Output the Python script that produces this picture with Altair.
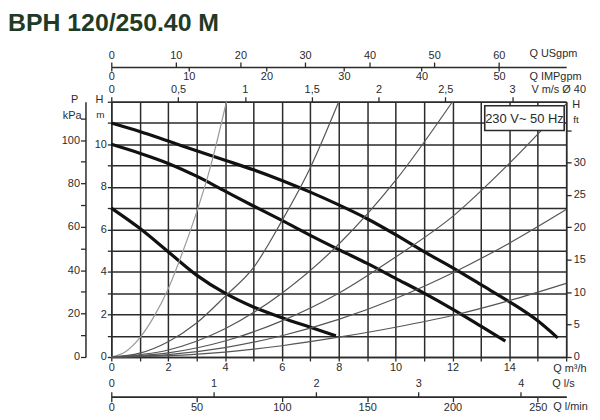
import altair as alt
import pandas as pd

# ---------------- data ----------------
# pump curves, Q in m3/h, H in m
q_max = [0, 1, 2, 3, 4, 5, 6, 7, 8, 9, 10, 11, 12, 13, 14, 15, 15.7]
h_max = [11.0, 10.6, 10.15, 9.7, 9.25, 8.8, 8.3, 7.75, 7.15, 6.5, 5.75, 4.95, 4.2, 3.4, 2.6, 1.7, 0.9]
q_mid = [0, 1, 2, 3, 4, 5, 6, 7, 8, 9, 10, 11, 12, 13, 13.86]
h_mid = [10.0, 9.58, 9.1, 8.5, 7.8, 7.1, 6.42, 5.72, 5.05, 4.4, 3.7, 3.0, 2.25, 1.45, 0.75]
q_min = [0, 1, 2, 3, 4, 5, 6, 7, 7.9]
h_min = [7.0, 6.05, 4.95, 3.85, 3.0, 2.35, 1.85, 1.4, 1.0]

# system (pipe) curves, thin lines
sysA_q = [0, 0.5, 1, 1.5, 2, 2.5, 3, 3.5, 4.05]
sysA_h = [0, 0.25, 0.9, 1.9, 3.2, 4.9, 6.8, 9.0, 12.0]
sysB_q = [0, 1, 2, 3, 4, 5, 6, 7, 8]
sysB_h = [0, 0.18, 0.72, 1.6, 2.85, 4.2, 6.4, 8.9, 12.0]
sysC_q = [0, 2, 4, 6, 8, 10, 12]
sysC_h = [0, 0.33, 1.33, 3.0, 5.3, 8.3, 12.0]
sysD_q = [0, 2, 4, 6, 8, 10, 12, 14, 16]
sysD_h = [0, 0.19, 0.75, 1.7, 3.0, 4.7, 6.6, 9.1, 11.9]
sysE_q = [0, 2, 4, 6, 8, 10, 12, 14, 16]
sysE_h = [0, 0.11, 0.44, 1.0, 1.77, 2.75, 3.95, 5.35, 6.93]
sysF_q = [0, 2, 4, 6, 8, 10, 12, 14, 16]
sysF_h = [0, 0.06, 0.23, 0.53, 0.93, 1.4, 1.95, 2.65, 3.46]

# axis tick values
q_ticks = list(range(0, 17))
h_ticks = list(range(0, 13))
kpa_ticks = list(range(0, 120, 10))
ft_ticks = [0, 5, 10, 15, 20, 25, 30, 35]
v_ticks = [0, 0.5, 1, 1.5, 2, 2.5, 3]
usgpm_ticks = [0, 10, 20, 30, 40, 50, 60]
impgpm_ticks = [0, 10, 20, 30, 40, 50]
ls_ticks = [0, 1, 2, 3, 4]
lmin_ticks = [0, 50, 100, 150, 200, 250]

TITLE = "BPH 120/250.40 M"
BOX_TEXT = "230 V~ 50 Hz"

# unit conversions (scale domains of the secondary axes)
Q_MAX, H_MAX = 16, 12
KPA_PER_M = 9.80665
FT_PER_M = 1 / 0.3048
V_PER_Q = 0.2128
USGPM_PER_Q = 4.4029
IMPGPM_PER_Q = 3.6662
LS_PER_Q = 1 / 3.6
LMIN_PER_Q = 1000 / 60

# ---------------- styling ----------------
W, H = 458, 257
FONT = "Liberation Sans"
INK = "#2b2b2b"

pump_df = pd.DataFrame(
    [("max", q, h) for q, h in zip(q_max, h_max)]
    + [("mid", q, h) for q, h in zip(q_mid, h_mid)]
    + [("min", q, h) for q, h in zip(q_min, h_min)],
    columns=["series", "Q", "H"],
)
sys_sets = {"A": (sysA_q, sysA_h), "B": (sysB_q, sysB_h), "C": (sysC_q, sysC_h),
            "D": (sysD_q, sysD_h), "E": (sysE_q, sysE_h), "F": (sysF_q, sysF_h)}
sys_df = pd.DataFrame(
    [(k, q, h) for k, (qs, hs) in sys_sets.items() for q, h in zip(qs, hs)],
    columns=["series", "Q", "H"],
)


def ax(**kw):
    base = dict(title=None, labelFont=FONT, labelFontSize=11, labelColor=INK,
                domainColor=INK, domainWidth=1.5, tickColor=INK, tickWidth=1.3,
                labelOverlap=False, labelFlush=False, grid=False)
    base.update(kw)
    return alt.Axis(**base)


def sc(hi):
    return alt.Scale(domain=[0, hi], nice=False, zero=False)


pump = alt.Chart(pump_df).mark_line(color="#111111", strokeWidth=3.2, interpolate="monotone").encode(
    x=alt.X("Q:Q", scale=sc(Q_MAX), axis=ax(
        orient="bottom", values=q_ticks, grid=True, gridColor=INK, gridWidth=1.5,
        tickSize=4, labelPadding=1,
        labelExpr="datum.value % 2 == 0 && datum.value < 16 ? toString(datum.value) : ''")),
    y=alt.Y("H:Q", scale=sc(H_MAX), axis=ax(
        orient="left", values=h_ticks, grid=True, gridColor=INK, gridWidth=1.5,
        tickSize=4, labelPadding=1,
        labelExpr="datum.value % 2 == 0 && datum.value < 12 ? toString(datum.value) : ''")),
    detail="series:N",
)

system = alt.Chart(sys_df).mark_line(strokeWidth=1.2, interpolate="monotone").encode(
    x=alt.X("Q:Q", scale=sc(Q_MAX), axis=None),
    y=alt.Y("H:Q", scale=sc(H_MAX), axis=None),
    color=alt.Color("series:N", legend=None,
                    scale=alt.Scale(domain=list(sys_sets.keys()),
                                    range=["#9a9a9a", "#555555", "#555555", "#555555", "#555555", "#555555"])),
    detail="series:N",
)


def axis_layer(channel, field, values, hi, axis):
    df = pd.DataFrame({field: values})
    if channel == "x":
        enc = {"x": alt.X(f"{field}:Q", scale=sc(hi), axis=axis)}
    else:
        enc = {"y": alt.Y(f"{field}:Q", scale=sc(hi), axis=axis)}
    return alt.Chart(df).mark_point(opacity=0).encode(**enc)


kpa_layer = axis_layer("y", "kpa", kpa_ticks, H_MAX * KPA_PER_M, ax(
    orient="left", offset=26, values=kpa_ticks, tickSize=5, labelPadding=1,
    labelExpr="datum.value % 20 == 0 && datum.value <= 100 ? toString(datum.value) : ''"))
ft_layer = axis_layer("y", "ft", ft_ticks, H_MAX * FT_PER_M, ax(
    orient="right", values=ft_ticks, tickSize=5, labelPadding=2,
    labelExpr="datum.value < 35 ? toString(datum.value) : ''"))
v_layer = axis_layer("x", "v", v_ticks, Q_MAX * V_PER_Q, ax(
    orient="top", values=v_ticks, tickSize=5, labelPadding=2,
    labelExpr="replace(toString(datum.value), '.', ',')"))
us_layer = axis_layer("x", "usgpm", usgpm_ticks, Q_MAX * USGPM_PER_Q, ax(
    orient="top", offset=35, values=usgpm_ticks, tickSize=5, labelPadding=2,
    labelExpr="toString(datum.value)"))
imp_layer = axis_layer("x", "impgpm", impgpm_ticks, Q_MAX * IMPGPM_PER_Q, ax(
    orient="bottom", offset=-292, values=impgpm_ticks, tickSize=4, labelPadding=0,
    domain=False, labelExpr="toString(datum.value)"))
ls_layer = axis_layer("x", "ls", ls_ticks, Q_MAX * LS_PER_Q, ax(
    orient="top", offset=-297, values=ls_ticks, tickSize=5, labelPadding=3,
    labelExpr="toString(datum.value)"))
lmin_layer = axis_layer("x", "lmin", lmin_ticks, Q_MAX * LMIN_PER_Q, ax(
    orient="bottom", offset=40, values=lmin_ticks, tickSize=5, labelPadding=0,
    labelExpr="toString(datum.value)"))


def note(text, x, y, align="left", size=11, weight="normal", color=INK, font=FONT, baseline="middle"):
    return alt.Chart(alt.Data(values=[{}])).mark_text(
        text=text, align=align, baseline=baseline, fontSize=size,
        fontWeight=weight, color=color, font=font,
    ).encode(x=alt.value(x), y=alt.value(y))


box = alt.Chart(alt.Data(values=[{}])).mark_rect(
    fill="white", stroke=INK, strokeWidth=1.6
).encode(x=alt.value(376), x2=alt.value(456), y=alt.value(4), y2=alt.value(29))

notes = [
    note(TITLE, -104, -71, size=25, weight="bold", color="#1f3b26", baseline="alphabetic"),
    note("Q USgpm", 421, -48),
    note("Q IMPgpm", 421, -25),
    note("V m/s Ø 40", 423, -12),
    note("Q m³/h", 445, 269),
    note("Q l/s", 444, 284),
    note("Q l/min", 445, 307),
    note("P", -37, -2, align="center"),
    note("kPa", -30, 14, align="right"),
    note("H", -12, -2, align="center"),
    note("m", -11, 13, align="center", size=10),
    note("H", 468, 3, align="center"),
    note("ft", 468, 18, align="center", size=10),
    note(BOX_TEXT, 416, 17, align="center", size=13),
]

chart = alt.layer(
    pump, system, kpa_layer, ft_layer, v_layer, us_layer, imp_layer, ls_layer, lmin_layer,
    box, *notes,
).resolve_scale(x="independent", y="independent").properties(
    width=W, height=H,
    padding={"left": 104, "top": 93, "right": 26, "bottom": 54},
    autosize=alt.AutoSizeParams(type="none"),
    background="white",
).configure_view(stroke=None)

chart.save("out.html", embed_options={"renderer": "svg", "actions": False})
